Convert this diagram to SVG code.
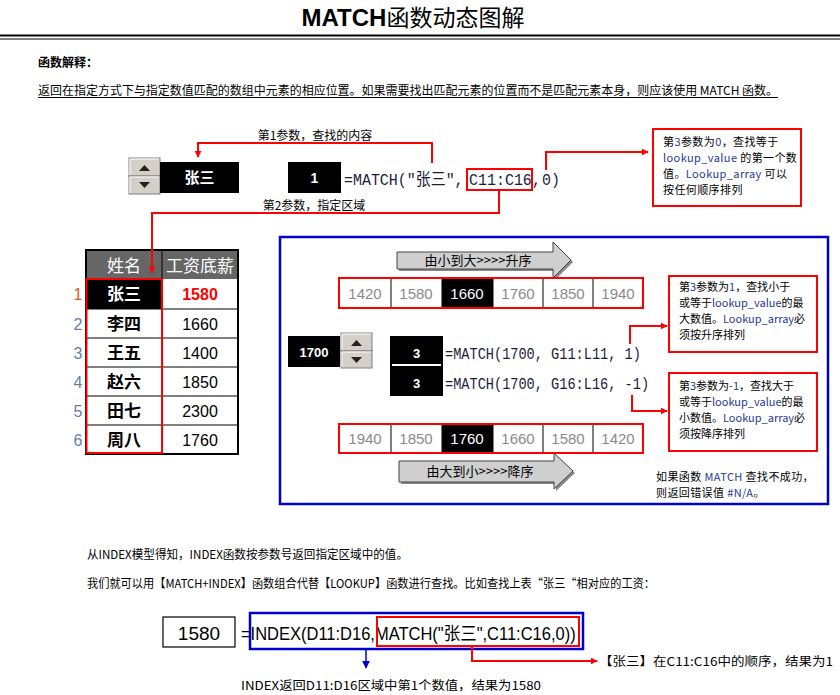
<svg xmlns="http://www.w3.org/2000/svg" width="840" height="695" viewBox="0 0 840 695">
<defs>
<style>
.cjk{font-family:"Noto Sans CJK SC","Liberation Sans",sans-serif;}
.sans{font-family:"Liberation Sans","Noto Sans CJK SC",sans-serif;}
.mono{font-family:"Liberation Mono","Noto Sans CJK SC",monospace;fill:#1c1c3c;}
.lbl{font-family:"Noto Sans CJK SC",sans-serif;font-size:11px;letter-spacing:0.4px;fill:#000;}
.lbs{font-family:"Noto Sans CJK SC",sans-serif;font-size:11px;fill:#000;}
.blu{fill:#1f3a93;}
.red{fill:none;stroke:#ff0000;stroke-width:2;}
.redl{fill:none;stroke:#ff0000;stroke-width:2;}
.btn{fill:#d4d0c8;stroke:#808080;stroke-width:1;}
.hl{stroke:#ffffff;stroke-width:1;fill:none;}
.num{font-family:"Liberation Sans",sans-serif;font-size:15px;fill:#8a8a8a;text-anchor:middle;}
.rown{font-family:"Liberation Sans",sans-serif;font-size:16px;fill:#5f7fa8;text-anchor:middle;}
.gray{fill:#cfcfcf;stroke:#444;stroke-width:1;}
</style>
<marker id="ar" viewBox="0 0 10 10" refX="9" refY="5" markerWidth="7" markerHeight="7" markerUnits="userSpaceOnUse" orient="auto"><path d="M0,0 L10,5 L0,10 z" fill="#ff0000"/></marker>
<marker id="ab" viewBox="0 0 10 10" refX="9" refY="5" markerWidth="8" markerHeight="8" markerUnits="userSpaceOnUse" orient="auto"><path d="M0,0 L10,5 L0,10 z" fill="#0000cc"/></marker>
</defs>
<rect width="840" height="695" fill="#fff"/>

<g id="title">
<text x="413" y="26" text-anchor="middle" class="cjk" font-size="23" fill="#000"><tspan class="sans" font-weight="bold" font-size="24">MATCH</tspan>函数动态图解</text>
<line x1="0" y1="35.5" x2="840" y2="35.5" stroke="#000" stroke-width="2"/>
<line x1="0" y1="39" x2="840" y2="39" stroke="#000" stroke-width="1"/>
</g>

<g id="intro">
<text x="38" y="67" class="cjk" font-size="12" font-weight="bold">函数解释：</text>
<text x="38" y="95" class="cjk" font-size="12" textLength="740" lengthAdjust="spacingAndGlyphs">返回在指定方式下与指定数值匹配的数组中元素的相应位置。如果需要找出匹配元素的位置而不是匹配元素本身，则应该使用 MATCH 函数。</text>
<line x1="38" y1="97.5" x2="778" y2="97.5" stroke="#000" stroke-width="1"/>
</g>

<g id="spinner1">
<rect x="129" y="158" width="31" height="18" class="btn"/>
<rect x="129" y="176" width="31" height="18" class="btn"/>
<path d="M130,175 L130,159 L159,159" class="hl"/>
<path d="M130,193 L130,177 L159,177" class="hl"/>
<path d="M139,171 L144.5,165 L150,171 z" fill="#222"/>
<path d="M139,182 L144.5,188 L150,182 z" fill="#222"/>
</g>
<g id="name-box">
<rect x="160" y="162" width="79" height="31" fill="#000"/>
<text x="199.5" y="183" text-anchor="middle" class="cjk" font-size="15" font-weight="bold" fill="#fff">张三</text>
</g>
<g id="result1">
<rect x="288" y="162" width="53" height="31" fill="#000"/>
<text x="314.5" y="183" text-anchor="middle" class="sans" font-size="14" font-weight="bold" fill="#fff">1</text>
</g>
<g id="formula1">
<text transform="matrix(0.88,0,0,1,0,0)" y="185" class="mono" font-size="17"><tspan x="390.9">=MATCH(″张三″,</tspan><tspan x="533">C11:C16</tspan><tspan x="604.5">,</tspan><tspan x="616">0)</tspan></text>
<rect x="467" y="169" width="65" height="21" class="red"/>
</g>

<g id="note0">
<rect x="653" y="129" width="148" height="77" class="red"/>
<text class="lbl" x="663" y="146">第<tspan class="blu">3</tspan>参数为<tspan class="blu">0</tspan>，查找等于</text>
<text class="lbl" x="663" y="162"><tspan class="blu">lookup_value</tspan> 的第一个数</text>
<text class="lbl" x="663" y="178">值。<tspan class="blu">Lookup_array</tspan> 可以</text>
<text class="lbl" x="663" y="194">按任何顺序排列</text>
</g>

<g id="table">
<rect x="86" y="250" width="152" height="29" fill="#666"/>
<text x="124" y="272" text-anchor="middle" class="cjk" font-size="17" fill="#fff">姓名</text>
<text x="200" y="272" text-anchor="middle" class="cjk" font-size="17" fill="#fff">工资底薪</text>
<rect x="86" y="279" width="76" height="30" fill="#000"/>
<g stroke="#000" stroke-width="1">
<line x1="86" y1="309" x2="238" y2="309"/>
<line x1="86" y1="338" x2="238" y2="338"/>
<line x1="86" y1="367" x2="238" y2="367"/>
<line x1="86" y1="396" x2="238" y2="396"/>
<line x1="86" y1="425" x2="238" y2="425"/>
<line x1="162" y1="250" x2="162" y2="454"/>
</g>
<rect x="86" y="250" width="152" height="204" fill="none" stroke="#000" stroke-width="2"/>
<g class="cjk" font-size="17" font-weight="bold" text-anchor="middle">
<text x="124" y="300" fill="#fff">张三</text>
<text x="124" y="330">李四</text>
<text x="124" y="359">王五</text>
<text x="124" y="388">赵六</text>
<text x="124" y="417">田七</text>
<text x="124" y="446">周八</text>
</g>
<g class="sans" font-size="16" text-anchor="middle">
<text x="200" y="300" fill="#ff0000" font-weight="bold">1580</text>
<text x="200" y="330">1660</text>
<text x="200" y="359">1400</text>
<text x="200" y="388">1850</text>
<text x="200" y="417">2300</text>
<text x="200" y="446">1760</text>
</g>
<text x="78" y="300" class="rown" style="fill:#e8551c">1</text>
<text x="78" y="330" class="rown">2</text>
<text x="78" y="359" class="rown">3</text>
<text x="78" y="388" class="rown">4</text>
<text x="78" y="417" class="rown">5</text>
<text x="78" y="446" class="rown">6</text>
<rect x="86.5" y="279" width="75.5" height="174" class="red"/>
</g>

<rect id="panel" x="280" y="237" width="548" height="267" fill="none" stroke="#0000cc" stroke-width="2.5"/>

<g id="asc-arrow">
<polygon points="399,254 555,254 555,244 573,262 555,280 555,271 399,271" fill="#888"/>
<polygon points="397,252 553,252 553,242 571,260 553,278 553,269 397,269" class="gray"/>
<text x="478" y="265" text-anchor="middle" class="cjk" font-size="13">由小到大&gt;&gt;&gt;&gt;升序</text>
</g>
<g id="asc-row">
<rect x="339" y="278" width="304" height="30" fill="#fff"/>
<rect x="442" y="279" width="51" height="28" fill="#000"/>
<g stroke="#000" stroke-width="1">
<line x1="391" y1="279" x2="391" y2="307"/>
<line x1="442" y1="279" x2="442" y2="307"/>
<line x1="493" y1="279" x2="493" y2="307"/>
<line x1="543" y1="279" x2="543" y2="307"/>
<line x1="593" y1="279" x2="593" y2="307"/>
</g>
<text x="365" y="299" class="num">1420</text>
<text x="416" y="299" class="num">1580</text>
<text x="467" y="299" class="num" style="fill:#fff">1660</text>
<text x="518" y="299" class="num">1760</text>
<text x="568" y="299" class="num">1850</text>
<text x="618" y="299" class="num">1940</text>
<rect x="339" y="278" width="304" height="30" class="red"/>
</g>

<g id="value-box">
<rect x="288" y="336" width="52" height="31" fill="#000"/>
<text x="314" y="357" text-anchor="middle" class="sans" font-size="13" font-weight="bold" fill="#fff">1700</text>
</g>
<g id="spinner2">
<rect x="341" y="333" width="31" height="18" class="btn"/>
<rect x="341" y="351" width="31" height="17" class="btn"/>
<path d="M342,350 L342,334 L371,334" class="hl"/>
<path d="M342,367 L342,352 L371,352" class="hl"/>
<path d="M351,346 L356.5,340 L362,346 z" fill="#222"/>
<path d="M351,357 L356.5,363 L362,357 z" fill="#222"/>
</g>
<g id="result2">
<rect x="390" y="336" width="53" height="60" fill="#000"/>
<line x1="392" y1="365" x2="441" y2="365" stroke="#fff" stroke-width="2"/>
<text x="416.5" y="358" text-anchor="middle" class="sans" font-size="13" font-weight="bold" fill="#fff">3</text>
<text x="416.5" y="388" text-anchor="middle" class="sans" font-size="13" font-weight="bold" fill="#fff">3</text>
</g>
<g id="formula2" transform="matrix(0.851,0,0,1,0,0)">
<text x="522.9" y="359" class="mono" font-size="16">=MATCH(1700, G11:L11, 1)</text>
<text x="522.9" y="389" class="mono" font-size="16">=MATCH(1700, G16:L16, -1)</text>
</g>

<g id="desc-row">
<rect x="339" y="424" width="304" height="29" fill="#fff"/>
<rect x="442" y="425" width="51" height="27" fill="#000"/>
<g stroke="#000" stroke-width="1">
<line x1="391" y1="425" x2="391" y2="452"/>
<line x1="442" y1="425" x2="442" y2="452"/>
<line x1="493" y1="425" x2="493" y2="452"/>
<line x1="543" y1="425" x2="543" y2="452"/>
<line x1="593" y1="425" x2="593" y2="452"/>
</g>
<text x="365" y="444" class="num">1940</text>
<text x="416" y="444" class="num">1850</text>
<text x="467" y="444" class="num" style="fill:#fff">1760</text>
<text x="518" y="444" class="num">1660</text>
<text x="568" y="444" class="num">1580</text>
<text x="618" y="444" class="num">1420</text>
<rect x="339" y="424" width="304" height="29" class="red"/>
</g>
<g id="desc-arrow">
<polygon points="401,463 556,463 556,455 575,473 556,491 556,484 401,484" fill="#888"/>
<polygon points="399,461 554,461 554,453 573,471 554,489 554,482 399,482" class="gray"/>
<text x="480" y="476" text-anchor="middle" class="cjk" font-size="13">由大到小&gt;&gt;&gt;&gt;降序</text>
</g>

<g id="note1">
<rect x="669" y="276" width="148" height="76" class="red"/>
<text class="lbs" x="679" y="291">第<tspan class="blu">3</tspan>参数为<tspan class="blu">1</tspan>，查找小于</text>
<text class="lbs" x="679" y="307">或等于<tspan class="blu">lookup_value</tspan>的最</text>
<text class="lbs" x="679" y="323">大数值。<tspan class="blu">Lookup_array</tspan>必</text>
<text class="lbs" x="679" y="339">须按升序排列</text>
</g>
<g id="note2">
<rect x="669" y="373" width="148" height="78" class="red"/>
<text class="lbs" x="679" y="390">第<tspan class="blu">3</tspan>参数为<tspan class="blu">-1</tspan>，查找大于</text>
<text class="lbs" x="679" y="406">或等于<tspan class="blu">lookup_value</tspan>的最</text>
<text class="lbs" x="679" y="422">小数值。<tspan class="blu">Lookup_array</tspan>必</text>
<text class="lbs" x="679" y="438">须按降序排列</text>
</g>
<g id="note-na">
<text class="lbl" x="656" y="481">如果函数 <tspan class="blu">MATCH</tspan> 查找不成功，</text>
<text class="lbl" x="656" y="497">则返回错误值 <tspan class="blu">#N/A</tspan>。</text>
</g>

<g id="lower-text">
<text x="87" y="559" class="cjk" font-size="12" textLength="321" lengthAdjust="spacingAndGlyphs">从INDEX模型得知，INDEX函数按参数号返回指定区域中的值。</text>
<text x="87" y="588" class="cjk" font-size="12" textLength="568" lengthAdjust="spacingAndGlyphs">我们就可以用【MATCH+INDEX】函数组合代替【LOOKUP】函数进行查找。比如查找上表“张三“相对应的工资：</text>
</g>

<g id="result3">
<rect x="163" y="617" width="72" height="30" fill="#fff" stroke="#000" stroke-width="1.2"/>
<text x="199" y="640" text-anchor="middle" class="sans" font-size="19">1580</text>
</g>
<g id="formula3">
<text transform="matrix(0.917,0,0,1,0,0)" x="262.8" y="640" class="sans" font-size="18">=INDEX(D11:D16,MATCH("张三",C11:C16,0))</text>
<rect x="250" y="613" width="333" height="36" fill="none" stroke="#0000cc" stroke-width="2.5"/>
<rect x="377" y="617" width="202" height="29" class="red"/>
</g>
<g id="lbl-index">
<text x="241" y="690" class="cjk" font-size="12" textLength="300" lengthAdjust="spacingAndGlyphs">INDEX返回D11:D16区域中第1个数值，结果为1580</text>
</g>
<g id="lbl-match">
<text x="599" y="666" class="cjk" font-size="12" textLength="234" lengthAdjust="spacingAndGlyphs">【张三】在C11:C16中的顺序，结果为1</text>
</g>

<g id="connectors">
<polyline points="432,163 432,143 198,143 198,157" class="redl" marker-end="url(#ar)"/>
<text x="315" y="140" text-anchor="middle" class="cjk" font-size="12">第1参数，查找的内容</text>
<polyline points="499,190 499,213 152,213 152,273" class="redl" marker-end="url(#ar)"/>
<text x="314" y="210" text-anchor="middle" class="cjk" font-size="12">第2参数，指定区域</text>
<polyline points="546,170 546,152 648,152" class="redl" marker-end="url(#ar)"/>
<polyline points="630,344 630,326 667,326" class="redl" marker-end="url(#ar)"/>
<polyline points="632,395 632,411 667,411" class="redl" marker-end="url(#ar)"/>
<polyline points="366,649 366,668" fill="none" stroke="#0000cc" stroke-width="1.5" marker-end="url(#ab)"/>
<polyline points="472,646 472,661 597,661" class="redl" marker-end="url(#ar)"/>
</g>
</svg>
